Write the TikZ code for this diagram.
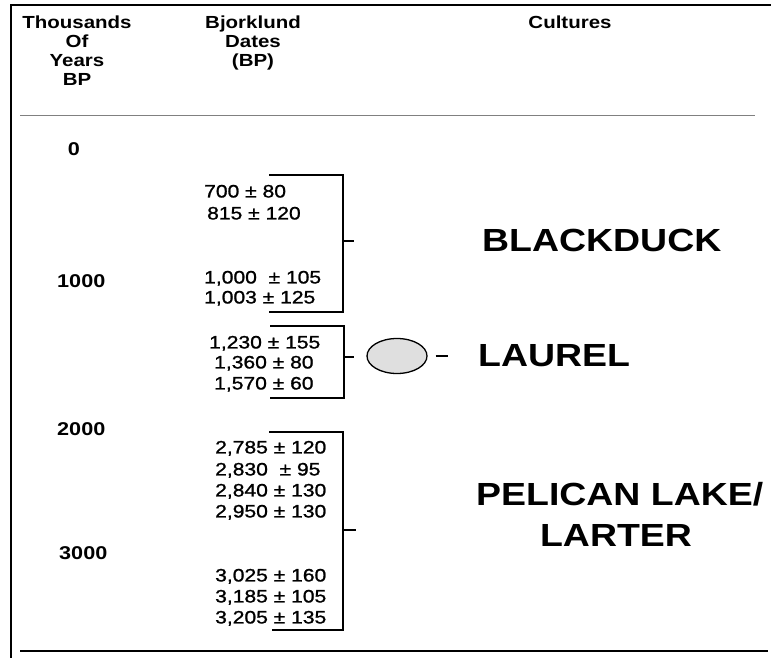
\documentclass[tikz,border=0pt]{standalone}
\usepackage{fontspec}
\setmainfont{Liberation Sans}
\newfontfamily\widefont[FakeStretch=1.17]{Liberation Sans}
\newfontfamily\datefont[FakeStretch=1.17,FakeBold=1.2]{Liberation Sans}
\usetikzlibrary{shapes.geometric,positioning}

\begin{document}
\begin{tikzpicture}[x=1pt,y=-1pt,
    head/.style={font=\widefont\bfseries\fontsize{17.5}{17.7}\selectfont, align=center, anchor=north, inner sep=0pt},
    year/.style={font=\widefont\bfseries\fontsize{18.5}{20}\selectfont, inner sep=0pt, text height=13pt, text depth=0pt},
    date/.style={font=\datefont\fontsize{18}{20}\selectfont, anchor=west, inner sep=0pt, text height=12.9pt, text depth=0pt},
    culture/.style={font=\widefont\bfseries\fontsize{32}{40}\selectfont, inner sep=0pt, text height=23pt, text depth=0pt},
    bracket/.style={line width=1.6pt},
    rule/.style={line width=2pt}]
    \useasboundingbox (0,0) rectangle (771,658);

    % Frame and rules
    \draw[line width=2.6pt] (771,5) -- (11,5) -- (11,658); % Border
    \draw[gray, line width=0.9pt] (20,115) -- (755,115); % Header rule
    \draw[rule] (20,651) -- (768,651); % Bottom rule

    % Column heads
    \node[head] (thousands) at (77,16) {Thousands\\[1.2pt]Of\\[1.2pt]Years\\[1.2pt]BP};
    \node[head] (bjorklund) at (253,16) {Bjorklund\\[1.2pt]Dates\\[1.2pt](BP)};
    \node[head] (cultures) at (570,16) {Cultures};

    % Time scale
    \node[year] (y0) at (74,149) {0};
    \node[year, anchor=west] (y1000) at (57,281) {1000};
    \node[year, anchor=west] (y2000) at (57,429) {2000};
    \node[year, anchor=west] (y3000) at (59,553) {3000};

    % Blackduck dates
    \node[date] (d700) at (204,191) {700 ± 80};
    \node[date] (d815) at (207,213) {815 ± 120};
    \node[date] (d1000) at (204,277) {1,000\ \ ± 105};
    \node[date] (d1003) at (204,297) {1,003 ± 125};
    \draw[bracket] (269,175) -| (343,312) -- (269,312); % Bracket
    \draw[bracket] (343,241) -- (354,241); % Tick

    % Laurel dates
    \node[date] (d1230) at (209,342) {1,230 ± 155};
    \node[date] (d1360) at (214,362) {1,360 ± 80};
    \node[date] (d1570) at (214,383) {1,570 ± 60};
    \draw[bracket] (270,326) -| (344,398) -- (270,398); % Bracket
    \draw[bracket] (344,357) -- (354,357); % Tick

    % Pelican Lake / Larter dates
    \node[date] (d2785) at (215,447) {2,785 ± 120};
    \node[date] (d2830) at (215,469) {2,830\ \ ± 95};
    \node[date] (d2840) at (215,490) {2,840 ± 130};
    \node[date] (d2950) at (215,511) {2,950 ± 130};
    \node[date] (d3025) at (215,575) {3,025 ± 160};
    \node[date] (d3185) at (215,596) {3,185 ± 105};
    \node[date] (d3205) at (215,617) {3,205 ± 135};
    \draw[bracket] (269,432) -| (343,630) -- (272,630); % Bracket
    \draw[bracket] (343,530) -- (356,530); % Tick

    % Cultures
    \node[culture, anchor=west] (blackduck) at (482,240) {BLACKDUCK};
    \node[draw, ellipse, line width=1.3pt, fill=gray!25, minimum width=60pt, minimum height=35pt] (laurelpot) at (397,356) {};
    \coordinate[right=8pt of laurelpot] (dashstart);
    \coordinate[right=20pt of laurelpot] (dashend);
    \draw[bracket] (dashstart) -- (dashend); % Dash
    \node[culture, anchor=west] (laurel) at (478,355) {LAUREL};
    \node[culture, anchor=west] (pelican) at (476,494) {PELICAN LAKE/};
    \node[culture] (larter) at (616,535) {LARTER};
\end{tikzpicture}
\end{document}
